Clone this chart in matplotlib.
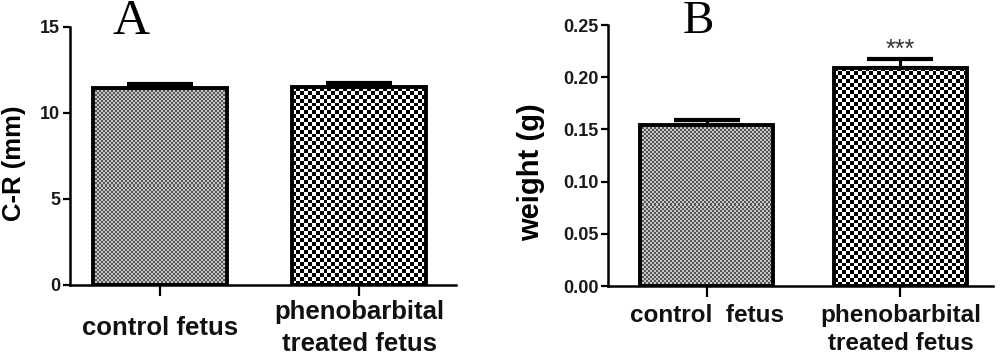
import matplotlib
matplotlib.use("Agg")
import matplotlib.pyplot as plt
from matplotlib.transforms import ScaledTranslation
import numpy as np

groups_a = ["control fetus", "phenobarbital\ntreated fetus"]
cr_mean = [11.45, 11.5]
cr_sem = [0.22, 0.22]

groups_b = ["control  fetus", "phenobarbital\ntreated fetus"]
weight_mean = [0.154, 0.209]
weight_sem = [0.0055, 0.0085]
sig_b = ["", "***"]

plt.rcParams["font.family"] = ["Liberation Sans", "DejaVu Sans"]


def checker_fill(ax, bar, cell_px, c_dark, c_light):
    # checkerboard texture clipped to the bar patch
    fig = ax.figure
    bb = bar.get_window_extent(fig.canvas.get_renderer())
    nx = max(1, int(round(bb.width / cell_px)))
    ny = max(1, int(round(bb.height / cell_px)))
    iy, ix = np.indices((ny, nx))
    board = (ix + iy) % 2
    cmap = matplotlib.colors.ListedColormap([c_light, c_dark])
    x0, w, h = bar.get_x(), bar.get_width(), bar.get_height()
    im = ax.imshow(board, cmap=cmap, extent=(x0, x0 + w, 0, h), aspect="auto",
                   interpolation="nearest", origin="lower", zorder=1)
    im.set_clip_path(bar)


def panel(ax, labels, means, sems, ylim, yticks, fmt, ylabel, width, xlim,
          label_xy, xfs, xpad, lsp, yfs, stars=None):
    x = np.arange(len(labels))
    bars = ax.bar(x, means, width=width, facecolor="none", edgecolor="black",
                  linewidth=2.8, zorder=3)
    ax.errorbar(x, means, yerr=[np.zeros(len(sems)), sems], fmt="none",
                ecolor="black", elinewidth=2.2, capsize=24, capthick=3.0, zorder=2)
    ax.set_xlim(*xlim)
    ax.set_ylim(*ylim)
    ax.set_yticks(yticks)
    ax.set_yticklabels([fmt.format(v) for v in yticks], fontsize=13, fontweight="bold",
                       color="#1a1a1a")
    ax.set_xticks(x)
    ax.set_xticklabels(labels, fontsize=xfs, fontweight="bold", color="#111111",
                       linespacing=lsp)
    ax.tick_params(axis="y", length=5, width=1.6, direction="out", pad=2)
    ax.tick_params(axis="x", length=8, width=1.6, direction="out", pad=xpad)
    for s in ["top", "right"]:
        ax.spines[s].set_visible(False)
    for s in ["left", "bottom"]:
        ax.spines[s].set_linewidth(1.8)
    ax.set_ylabel(ylabel, fontsize=yfs, fontweight="bold")
    ax.yaxis.set_label_coords(*label_xy)
    fig.canvas.draw()
    checker_fill(ax, bars[0], 2.0, "#555555", "#c8c8c8")
    checker_fill(ax, bars[1], 3.9, "#000000", "#ffffff")
    if stars:
        for xi, m, e, s in zip(x, means, sems, stars):
            if s:
                ax.annotate(s, (xi, m + e), xytext=(0, 1.5), textcoords="offset points",
                            ha="center", va="baseline", fontsize=18, color="#333333")
    return ax


fig = plt.figure(figsize=(10, 3.54), dpi=100)
ax1 = fig.add_axes([0.070, 0.195, 0.386, 0.729])
ax2 = fig.add_axes([0.608, 0.192, 0.385, 0.737])

panel(ax1, groups_a, cr_mean, cr_sem, (0, 15), [0, 5, 10, 15], "{:g}", "C-R (mm)",
      0.67, (-0.452, 1.487), (-0.114, 0.471), 18.5, 3, 1.4, 18.5)
panel(ax2, groups_b, weight_mean, weight_sem, (0, 0.25),
      [0.0, 0.05, 0.10, 0.15, 0.20, 0.25], "{:.2f}", "weight (g)",
      0.686, (-0.508, 1.477), (-0.164, 0.437), 17.5, 5, 1.3, 21, stars=sig_b)

# single-line label in panel A sits lower, level with the middle of the two-line one
lab = ax1.get_xticklabels()[0]
lab.set_transform(lab.get_transform() + ScaledTranslation(0, -16 / 100, fig.dpi_scale_trans))

fig.text(0.1315, 0.904, "A", fontsize=37, family="Liberation Serif", ha="center", va="baseline")
fig.text(0.698, 0.907, "B", fontsize=34, family="Liberation Serif", ha="center", va="baseline")

fig.savefig("out.png", dpi=100)
